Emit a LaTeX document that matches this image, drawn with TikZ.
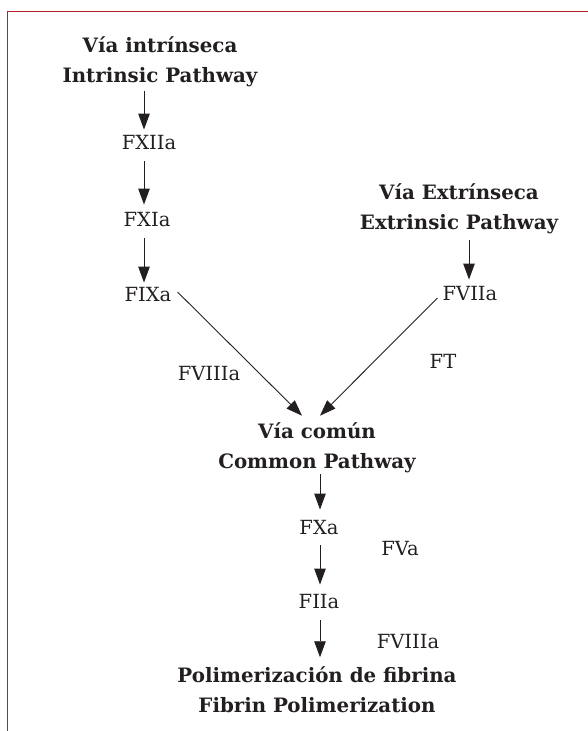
\documentclass[tikz,border=0pt]{standalone}
\usepackage{fontspec}
\setmainfont{DejaVu Serif}
\usetikzlibrary{arrows.meta}
\definecolor{framered}{RGB}{180,30,45}
\definecolor{inkgray}{RGB}{35,31,32}

\begin{document}
\begin{tikzpicture}[x=1pt,y=-1pt,
  factor/.style={inner sep=0pt,text=inkgray,font=\fontsize{19.5}{22}\selectfont},
  title/.style={inner sep=0pt,align=center,text=inkgray,font=\fontsize{19.8}{30}\selectfont\bfseries},
  flow/.style={draw=inkgray,line width=0.9pt,-{Triangle[length=16pt,width=11.5pt]}}]
\useasboundingbox (0,0) rectangle (588,731);
\draw[framered,line width=1.5pt] (7.5,731) -- (7.5,11.5) -- (588,11.5);
% intrinsic branch
\node[title] (intr) at (160,62) {Vía intrínseca\\Intrinsic Pathway};
\node[factor] (fxii) at (149,143) {FXIIa};
\node[factor] (fxi) at (147,220) {FXIa};
\node[factor] (fix) at (148,295) {FIXa};
\node[factor] (fviii) at (209,374) {FVIIIa};
% extrinsic branch
\node[title] (extr) at (459,208.5) {Vía Extrínseca\\Extrinsic Pathway};
\node[factor] (fvii) at (470,294) {FVIIa};
\node[factor] (ft) at (443,361) {FT};
% common pathway
\node[title] (comun) at (317,448) {Vía común\\Common Pathway};
\node[factor] (fx) at (319,528) {FXa};
\node[factor] (fv) at (400,549) {FVa};
\node[factor] (fii) at (319,602) {FIIa};
\node[factor] (fviiib) at (408,642) {FVIIIa};
\node[title] (polim) at (317,689.5) {Polimerización de fibrina\\Fibrin Polimerization};
% arrows
\draw[flow,shorten <=4pt,shorten >=6pt] ([xshift=-16pt]intr.south) -- ([xshift=-5pt]fxii.north);
\draw[flow,shorten <=11pt,shorten >=8pt] ([xshift=-5pt]fxii.south) -- ([xshift=-3pt]fxi.north);
\draw[flow,shorten <=11pt,shorten >=5pt] ([xshift=-3pt]fxi.south) -- ([xshift=-4pt]fix.north);
\draw[flow] ([xshift=6pt,yshift=3pt]fix.east) -- ([xshift=-15pt,yshift=7pt]comun.north);
\draw[flow] ([xshift=-5pt,yshift=-4pt]fvii.west) -- ([xshift=3pt,yshift=7pt]comun.north);
\draw[flow,shorten <=6pt,shorten >=7pt] ([xshift=10pt]extr.south) -- ([xshift=-1pt]fvii.north);
\draw[flow,shorten <=1pt,shorten >=11pt] ([xshift=3pt]comun.south) -- ([xshift=1pt]fx.north);
\draw[flow,shorten <=10pt,shorten >=10pt] ([xshift=1pt]fx.south) -- ([xshift=1pt]fii.north);
\draw[flow,shorten <=11pt,shorten >=9pt] ([xshift=1pt]fii.south) -- ([xshift=3pt]polim.north);
\end{tikzpicture}
\end{document}
